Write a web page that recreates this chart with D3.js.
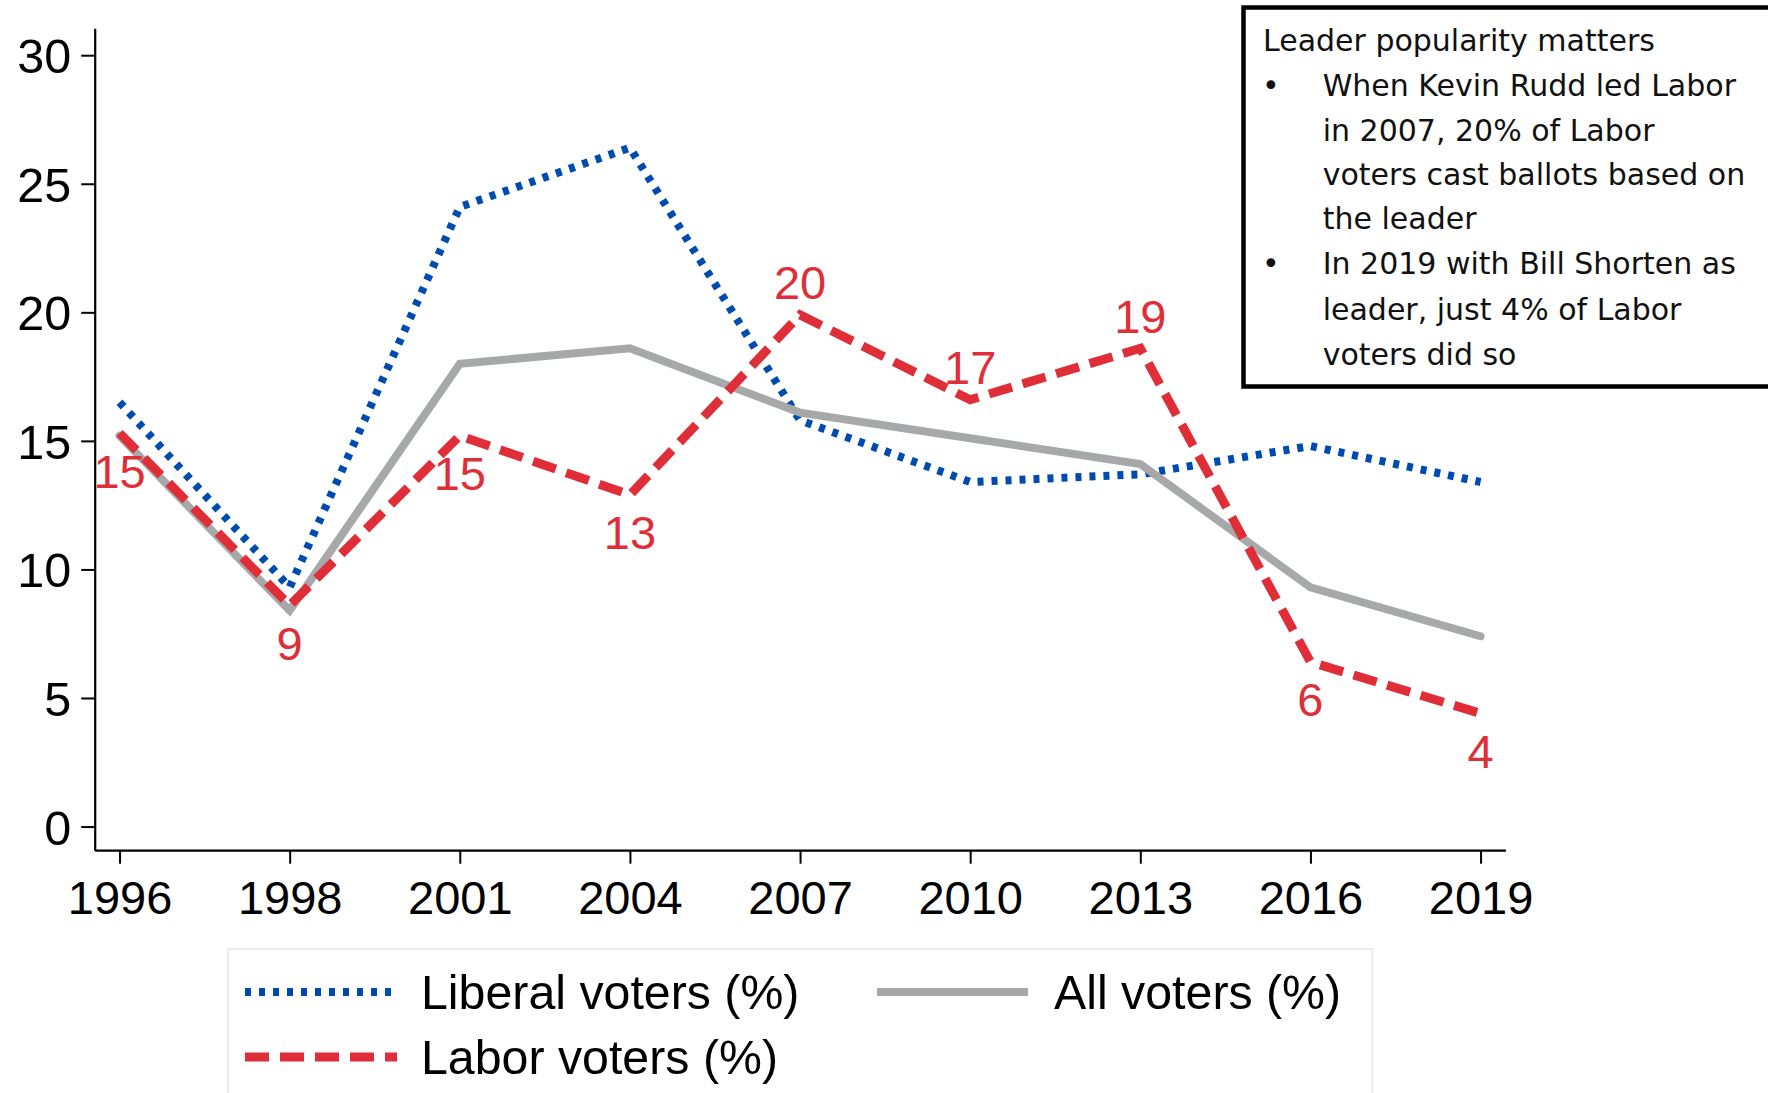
<!DOCTYPE html>
<html>
<head>
<meta charset="utf-8">
<script src="https://cdn.jsdelivr.net/npm/d3@7"></script>
<style>
  html, body { margin: 0; padding: 0; background: #fff; }
  svg { display: block; }
</style>
</head>
<body>
<svg id="chart" width="1768" height="1093"></svg>
<script>
// ---- data ----
const years = ["1996", "1998", "2001", "2004", "2007", "2010", "2013", "2016", "2019"];
const liberalVoters = [16.5, 9.3, 24.1, 26.4, 15.8, 13.4, 13.7, 14.8, 13.4];
const allVoters = [15.2, 8.4, 18.0, 18.6, 16.1, 15.1, 14.1, 9.3, 7.4];
const laborVoters = [15.3, 8.6, 15.2, 12.9, 19.9, 16.6, 18.6, 6.4, 4.4];
const laborLabels = ["15", "9", "15", "13", "20", "17", "19", "6", "4"];
const yTicks = [0, 5, 10, 15, 20, 25, 30];
const legendLabels = ["Liberal voters (%)", "All voters (%)", "Labor voters (%)"];
const noteTitle = "Leader popularity matters";
const noteBullets = [
  ["When Kevin Rudd led Labor", "in 2007, 20% of Labor", "voters cast ballots based on", "the leader"],
  ["In 2019 with Bill Shorten as", "leader, just 4% of Labor", "voters did so"]
];

// ---- styling ----
const BLUE = "#004bb0", RED = "#df2e38", GRAY = "#a7a8aa";
const FONT = "'Liberation Sans', Arial, Helvetica, sans-serif";

const svg = d3.select("#chart");

const x = d3.scalePoint().domain(years).range([94.7, 1505.4]).padding(0.146);
const y = d3.scaleLinear().domain([-0.92, 31.05]).range([850.2, 28.2]);

// axes
const yAxis = svg.append("g").attr("transform", "translate(94.7,0)")
  .call(d3.axisLeft(y).tickValues(yTicks).tickSize(13.5).tickSizeOuter(0).tickPadding(10));
const xAxis = svg.append("g").attr("transform", "translate(0,850.2)")
  .call(d3.axisBottom(x).tickSize(13.5).tickSizeOuter(0).tickPadding(12));
[yAxis, xAxis].forEach(g => {
  g.selectAll("path.domain").attr("stroke", "#000").attr("stroke-width", 2.2);
  g.selectAll(".tick line").attr("stroke", "#000").attr("stroke-width", 2);
  g.selectAll(".tick text").attr("fill", "#000").style("font-family", FONT).style("font-size", "47px");
});
yAxis.selectAll(".tick text").attr("dy", "0.36em").style("font-size", "48.5px");
xAxis.selectAll(".tick text").attr("dy", "0.82em");

// lines
const lineGen = vals => d3.line().x((d, i) => x(years[i])).y(d => y(d))(vals);

svg.append("path").attr("d", lineGen(liberalVoters))
  .attr("fill", "none").attr("stroke", BLUE).attr("stroke-width", 8)
  .attr("stroke-dasharray", "6 8").attr("stroke-linejoin", "miter");
svg.append("path").attr("d", lineGen(allVoters))
  .attr("fill", "none").attr("stroke", GRAY).attr("stroke-width", 8)
  .attr("stroke-linecap", "round").attr("stroke-linejoin", "miter");
svg.append("path").attr("d", lineGen(laborVoters))
  .attr("fill", "none").attr("stroke", RED).attr("stroke-width", 9)
  .attr("stroke-dasharray", "24 11").attr("stroke-linejoin", "miter");

// labor labels
svg.append("g").selectAll("text").data(laborVoters).join("text")
  .attr("x", (d, i) => x(years[i]))
  .attr("y", d => d > 16 ? y(d) - 32 : y(d) + 38)
  .attr("text-anchor", "middle")
  .attr("dominant-baseline", "central")
  .style("font-family", FONT).style("font-size", "47px")
  .attr("fill", RED)
  .text((d, i) => laborLabels[i]);

// legend
const lg = svg.append("g");
lg.append("rect").attr("x", 228).attr("y", 949).attr("width", 1144.5).attr("height", 200)
  .attr("fill", "#fff").attr("stroke", "#ececec").attr("stroke-width", 2);
const legendItems = [
  { label: legendLabels[0], color: BLUE, w: 8, dash: "6 8", cap: "butt", x0: 245, x1: 391, yy: 992, tx: 421 },
  { label: legendLabels[1], color: GRAY, w: 8, dash: null, cap: "butt", x0: 877, x1: 1028, yy: 992, tx: 1054 },
  { label: legendLabels[2], color: RED, w: 9, dash: "24 11", cap: "butt", x0: 245, x1: 397, yy: 1057, tx: 421 }
];
legendItems.forEach(it => {
  lg.append("line").attr("x1", it.x0).attr("x2", it.x1).attr("y1", it.yy).attr("y2", it.yy)
    .attr("stroke", it.color).attr("stroke-width", it.w)
    .attr("stroke-dasharray", it.dash).attr("stroke-linecap", it.cap);
  lg.append("text").attr("x", it.tx).attr("y", it.yy).attr("dominant-baseline", "central")
    .style("font-family", FONT).style("font-size", "48.3px").attr("fill", "#000").text(it.label);
});

// annotation box
const note = svg.append("g");
note.append("rect").attr("x", 1243.5).attr("y", 7.5).attr("width", 560).attr("height", 379)
  .attr("fill", "#fff").attr("stroke", "#000").attr("stroke-width", 4.5);
const NFONT = "'DejaVu Sans', sans-serif";
const NSIZE = "30px";
const lineYs = [40.6, 85.7, 130.8, 174.8, 218.8, 263.9, 309, 354];
note.append("text").attr("x", 1263).attr("y", lineYs[0]).attr("dominant-baseline", "central")
  .style("font-family", NFONT).style("font-size", NSIZE).attr("fill", "#111").text(noteTitle);
let li = 1;
noteBullets.forEach(lines => {
  note.append("text").attr("x", 1262).attr("y", lineYs[li]).attr("dominant-baseline", "central")
    .style("font-family", NFONT).style("font-size", NSIZE).attr("fill", "#111").text("•");
  lines.forEach(t => {
    note.append("text").attr("x", 1322.7).attr("y", lineYs[li]).attr("dominant-baseline", "central")
      .style("font-family", NFONT).style("font-size", NSIZE).attr("fill", "#111").text(t);
    li++;
  });
});
</script>
</body>
</html>
